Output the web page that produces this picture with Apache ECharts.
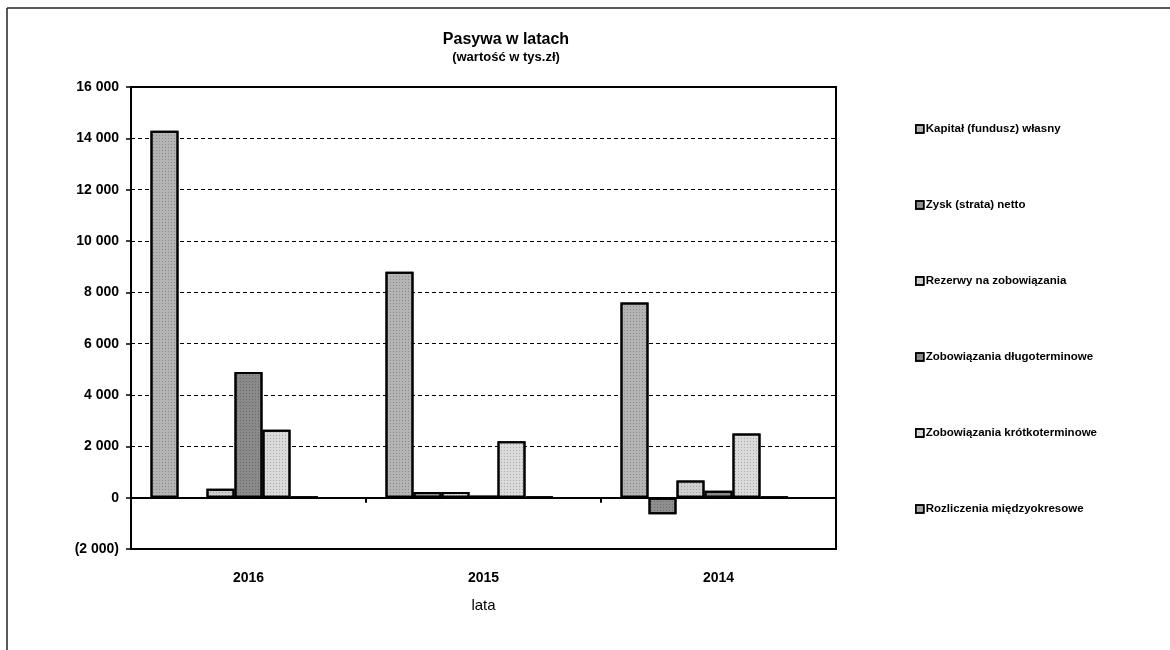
<!DOCTYPE html>
<html>
<head>
<meta charset="utf-8">
<script src="https://cdn.jsdelivr.net/npm/echarts@6/dist/echarts.min.js"></script>
<style>
html,body{margin:0;padding:0;background:#fff;}
#c{width:1170px;height:650px;}
</style>
</head>
<body>
<div id="c"></div>
<script>
const categories = ['2016', '2015', '2014'];
const seriesNames = [
  'Kapitał (fundusz) własny',
  'Zysk (strata) netto',
  'Rezerwy na zobowiązania',
  'Zobowiązania długoterminowe',
  'Zobowiązania krótkoterminowe',
  'Rozliczenia międzyokresowe'
];
const kapital = [14300, 8800, 7600];
const zysk = [-30, 220, -650];
const rezerwy = [350, 220, 670];
const zobDlugo = [4900, 80, 270];
const zobKrotko = [2650, 2200, 2500];
const rozliczenia = [40, 40, 30];
const emptySlot = [null, null, null];
const yTicks = { min: -2000, max: 16000, step: 2000 };

const values = [kapital, zysk, rezerwy, zobDlugo, zobKrotko, rozliczenia];
const fills = ['#b4b4b4', '#8e8e8e', '#cfcfcf', '#8a8a8a', '#dadada', '#a8a8a8'];

function fmt(v) {
  const s = String(Math.abs(v)).replace(/\B(?=(\d{3})+(?!\d))/g, ' ');
  return v < 0 ? '(' + s + ')' : s;
}

const chart = echarts.init(document.getElementById('c'), null, { renderer: 'canvas' });

const series = values.map((d, i) => ({
  name: seriesNames[i],
  type: 'bar',
  xAxisIndex: 0,
  data: d,
  barWidth: 28,
  barGap: '0%',
  itemStyle: {
    color: fills[i],
    borderColor: '#000',
    borderWidth: 2,
    decal: {
      symbol: 'rect',
      symbolSize: 1,
      dashArrayX: [1, 2],
      dashArrayY: [1, 2],
      color: 'rgba(0,0,0,0.22)',
      rotation: 0
    }
  },
  emphasis: { disabled: true }
}));
series.push({
  name: '',
  type: 'bar',
  xAxisIndex: 0,
  data: emptySlot,
  barWidth: 28,
  barGap: '0%'
});

chart.setOption({
  animation: false,
  backgroundColor: '#fff',
  title: {
    text: 'Pasywa w latach',
    subtext: '(wartość w tys.zł)',
    left: 501,
    top: 27,
    textAlign: 'center',
    itemGap: 3,
    textStyle: { fontFamily: 'Liberation Sans, Arial', fontSize: 16, fontWeight: 'bold', color: '#000' },
    subtextStyle: { fontFamily: 'Liberation Sans, Arial', fontSize: 13, fontWeight: 'bold', color: '#000' }
  },
  legend: {
    orient: 'vertical',
    left: 910,
    top: 118,
    data: seriesNames,
    itemWidth: 8,
    itemHeight: 8,
    itemGap: 64,
    icon: 'rect',
    selectedMode: false,
    itemStyle: { borderColor: '#000', borderWidth: 1.5 },
    textStyle: { fontFamily: 'Liberation Sans, Arial', fontSize: 11.5, fontWeight: 'bold', color: '#000', padding: [0, 0, 0, -3] }
  },
  grid: {
    left: 131, right: 334, top: 87, bottom: 101,
    show: true, borderColor: '#000', borderWidth: 2, backgroundColor: 'transparent'
  },
  xAxis: [
    {
      type: 'category',
      data: categories,
      position: 'bottom',
      axisLine: { onZero: false, show: true, lineStyle: { color: '#000', width: 2 } },
      axisTick: { show: false },
      axisLabel: { margin: 22, fontFamily: 'Liberation Sans, Arial', fontSize: 14, fontWeight: 'bold', color: '#000' },
      name: 'lata',
      nameLocation: 'middle',
      nameGap: 49,
      nameTextStyle: { fontFamily: 'Liberation Sans, Arial', fontSize: 15, color: '#000' }
    },
    {
      type: 'category',
      data: categories,
      position: 'bottom',
      axisLine: { onZero: true, show: true, lineStyle: { color: '#000', width: 2 } },
      axisTick: { show: true, length: 5, lineStyle: { color: '#000', width: 2 } },
      axisLabel: { show: false }
    }
  ],
  yAxis: {
    type: 'value',
    min: yTicks.min,
    max: yTicks.max,
    interval: yTicks.step,
    axisLine: { show: true, lineStyle: { color: '#000', width: 2 } },
    axisTick: { show: true, length: 5, lineStyle: { color: '#000', width: 1.5 } },
    axisLabel: {
      formatter: fmt,
      margin: 12,
      fontFamily: 'Liberation Sans, Arial',
      fontSize: 14,
      fontWeight: 'bold',
      color: '#000'
    },
    splitLine: { show: true, lineStyle: { color: '#000', type: [4, 3], width: 1 } }
  },
  graphic: [
    { type: 'line', shape: { x1: 7, y1: 8, x2: 1170, y2: 8 }, style: { stroke: '#222', lineWidth: 1.5 } },
    { type: 'line', shape: { x1: 7, y1: 8, x2: 7, y2: 650 }, style: { stroke: '#222', lineWidth: 1.5 } }
  ],
  series: series
});
</script>
</body>
</html>
